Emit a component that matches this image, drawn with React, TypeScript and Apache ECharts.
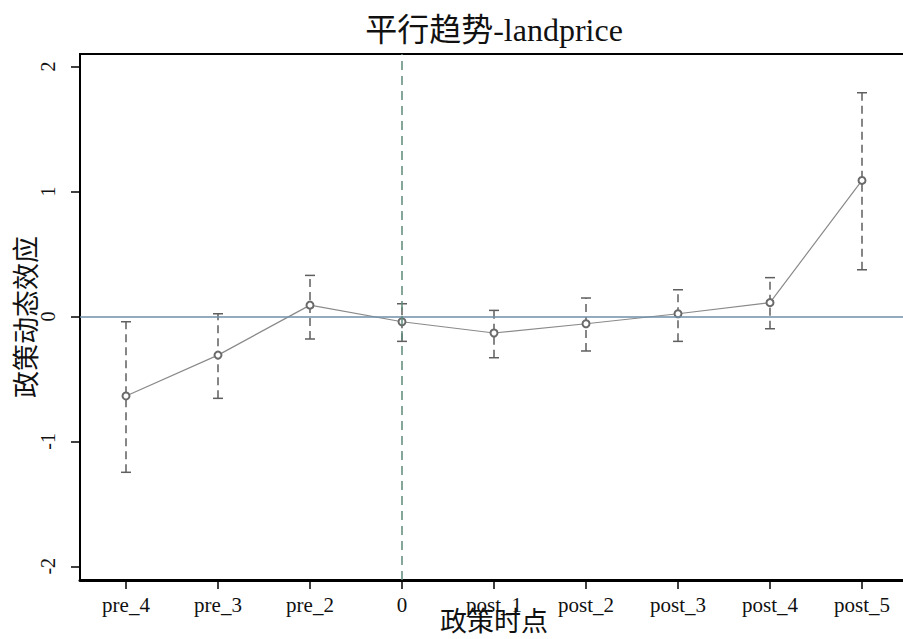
import React, { useEffect, useRef } from "react";
import * as echarts from "echarts";

const categories = ["pre_4", "pre_3", "pre_2", "0", "post_1", "post_2", "post_3", "post_4", "post_5"];
const estimates = [-0.637, -0.31, 0.09, -0.043, -0.133, -0.059, 0.021, 0.11, 1.088];
const lowerCI = [-1.248, -0.656, -0.181, -0.2, -0.331, -0.277, -0.2, -0.099, 0.373];
const upperCI = [-0.043, 0.021, 0.328, 0.101, 0.048, 0.147, 0.213, 0.31, 1.79];
const yTicks = [-2, -1, 0, 1, 2];

const titleText = "平行趋势-landprice";
const xName = "政策时点";
const yName = "政策动态效应";

const SERIF = "'Liberation Serif', 'Times New Roman', 'Noto Sans CJK SC', serif";

export default function App() {
  const ref = useRef<HTMLDivElement>(null);
  useEffect(() => {
    if (!ref.current) return;
    const chart = echarts.init(ref.current, null, { renderer: "svg" });
    const errData = categories.map((_, i) => [i, lowerCI[i], upperCI[i]]);
    chart.setOption({
      animation: false,
      backgroundColor: "#ffffff",
      textStyle: { fontFamily: SERIF },
      graphic: [
        {
          type: "text",
          x: 494,
          y: 30,
          style: {
            text: titleText,
            fontSize: 32,
            fontFamily: SERIF,
            fill: "#111",
            textAlign: "center",
            textVerticalAlign: "middle",
          },
        },
      ],
      grid: {
        left: 80,
        right: -5,
        top: 54,
        bottom: 59,
        outerBoundsMode: "none",
        containLabel: false,
        show: true,
        borderColor: "#000",
        borderWidth: 2,
        backgroundColor: "transparent",
      },
      xAxis: {
        type: "category",
        data: categories,
        boundaryGap: true,
        name: xName,
        nameLocation: "middle",
        nameGap: 28,
        nameMoveOverlap: false,
        nameTextStyle: { fontSize: 27, color: "#111", fontFamily: SERIF },
        axisLine: { show: true, onZero: false, lineStyle: { color: "#000", width: 3 } },
        axisTick: { show: true, alignWithLabel: true, length: 9, lineStyle: { color: "#000", width: 1.5 } },
        axisLabel: { fontSize: 21, color: "#111", margin: 14, fontFamily: SERIF },
        splitLine: { show: false },
      },
      yAxis: {
        type: "value",
        min: -2.11,
        max: 2.1,
        name: yName,
        nameLocation: "middle",
        nameRotate: 90,
        nameGap: 40,
        nameMoveOverlap: false,
        nameTextStyle: { fontSize: 27, color: "#111", fontFamily: SERIF },
        axisLine: { show: true, onZero: false, lineStyle: { color: "#000", width: 2 } },
        axisTick: { show: true, length: 9, customValues: yTicks, lineStyle: { color: "#000", width: 1.5 } },
        axisLabel: { fontSize: 20, color: "#111", rotate: 90, margin: 22, customValues: yTicks, fontFamily: SERIF },
        splitLine: { show: false },
      },
      series: [
        {
          type: "custom",
          data: errData,
          z: 3,
          renderItem: (params: any, api: any) => {
            const x = api.value(0);
            const lo = api.coord([x, api.value(1)]);
            const hi = api.coord([x, api.value(2)]);
            const cap = 5;
            const color = "#5f5f5f";
            return {
              type: "group",
              children: [
                {
                  type: "line",
                  shape: { x1: lo[0], y1: lo[1], x2: hi[0], y2: hi[1] },
                  style: { stroke: color, lineWidth: 1.5, lineDash: [8, 5] },
                },
                {
                  type: "line",
                  shape: { x1: lo[0] - cap, y1: lo[1], x2: lo[0] + cap, y2: lo[1] },
                  style: { stroke: color, lineWidth: 1.5 },
                },
                {
                  type: "line",
                  shape: { x1: hi[0] - cap, y1: hi[1], x2: hi[0] + cap, y2: hi[1] },
                  style: { stroke: color, lineWidth: 1.5 },
                },
              ],
            };
          },
        },
        {
          type: "line",
          data: estimates,
          z: 4,
          symbol: "emptyCircle",
          symbolSize: 7,
          itemStyle: { color: "#6a6a6a", borderWidth: 1.2 },
          lineStyle: { color: "#8a8a8a", width: 1.2 },
          markLine: {
            silent: true,
            symbol: "none",
            label: { show: false },
            data: [
              { yAxis: 0, lineStyle: { color: "#6f8fa6", width: 1.5, type: "solid" } },
              { xAxis: "0", lineStyle: { color: "#5e8a7a", width: 1.5, type: [9, 6] } },
            ],
          },
        },
      ],
    });
    return () => chart.dispose();
  }, []);
  return (
    <div
      ref={ref}
      style={{ position: "fixed", left: 0, top: 0, width: 903, height: 639, background: "#fff" }}
    />
  );
}
